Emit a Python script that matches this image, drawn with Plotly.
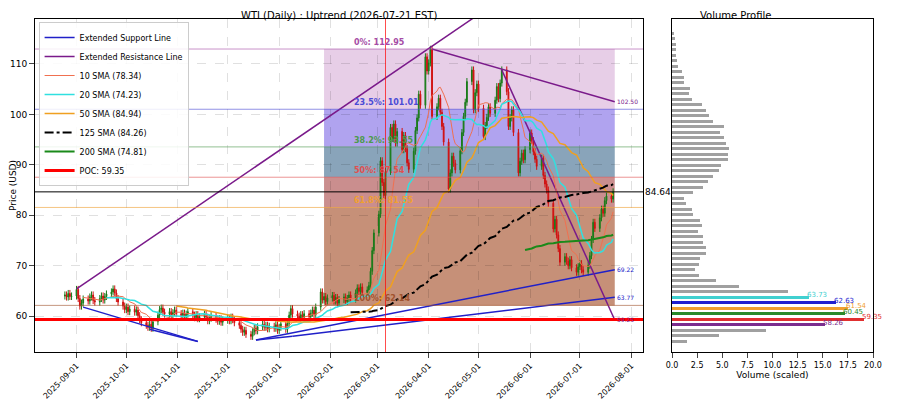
import pandas as pd
import plotly.graph_objects as go

closes = [
 64.2, 63.8, 64.5, 63.9, 64.0,
 65.3, 63.5, 62.0, 62.6, 63.4,
 63.0, 63.8, 64.2, 63.1, 62.8,
 63.5, 64.0, 63.2, 63.9, 64.4,
 64.8, 65.4, 64.6, 63.5, 62.8,
 62.0, 61.3, 61.8, 60.9, 61.4,
 60.8, 61.2, 60.1, 59.3, 58.7,
 58.2, 57.8, 58.4, 57.6, 58.9,
 60.2, 61.3, 61.6, 60.8, 60.4,
 60.9, 60.3, 60.7, 61.2, 60.5,
 60.1, 60.6, 59.8, 60.4, 60.9,
 60.2, 59.7, 60.3, 59.5, 59.9,
 60.4, 59.8, 59.1, 59.6, 60.1,
 59.4, 59.0, 59.5, 58.8, 59.2,
 59.6, 59.1, 59.8, 59.3, 58.7,
 58.2, 57.4, 56.8, 57.2, 56.4,
 56.0, 56.9, 57.6, 57.1, 57.9,
 58.4, 57.8, 58.2, 57.5, 58.0,
 57.6, 58.3, 57.2, 57.8, 58.5,
 57.4, 58.6, 60.2, 61.5, 60.4,
 60.0, 59.6, 60.3, 59.8, 60.5,
 59.9, 60.6, 61.2, 60.3, 61.8,
 64.8, 63.2, 63.9, 62.9, 63.6,
 64.1, 63.0, 63.7, 62.6, 63.3,
 63.8, 62.9, 63.5, 64.2, 63.4,
 64.6, 65.6, 64.9, 65.8, 64.7,
 65.2, 66.1, 68.9, 73.0, 76.5,
 80.2, 90.8, 86.5, 83.9, 88.7,
 97.4, 95.2, 98.1, 94.3, 96.6,
 93.0, 95.8, 93.2, 90.4, 89.1,
 92.7, 96.8, 99.3, 104.0, 101.8,
 111.4, 108.6, 110.2, 112.9, 99.6,
 101.5, 103.2, 100.4, 97.6, 94.5,
 85.2, 88.4, 91.7, 90.3, 89.0,
 92.8, 96.4, 99.6, 102.4, 106.5,
 108.8, 100.9, 104.3, 106.0, 101.2,
 95.6, 97.8, 99.4, 101.5, 100.2,
 102.8, 105.5, 103.1, 106.2, 108.8,
 104.5, 97.6, 99.3, 100.9, 96.4,
 88.4, 90.7, 92.3, 91.0, 93.0,
 96.3, 94.8, 92.6, 91.1, 89.7,
 91.3, 87.9, 86.2, 85.0, 82.4,
 77.3, 79.2, 76.1, 73.4, 70.7,
 71.8, 70.9, 70.0, 71.2, 69.6,
 68.7, 69.8, 70.4, 69.2, 68.7,
 70.1, 72.0, 75.2, 78.6, 77.4,
 79.5, 81.2, 80.4, 82.9, 83.8,
 83.2, 84.64,
]
first_open = 64.0
wick = 0.7

fib_levels = [112.95, 101.01, 93.55, 87.54, 81.55, 62.14]
fib_names = ["0%", "23.5%", "38.2%", "50%", "61.8%", "100%"]
fib_line_colors = ["#a64ca6", "#4b4bd6", "#4c9a4c", "#e05050", "#f0a030", "#a0522d"]
fib_fill_colors = ["rgba(160,60,160,0.25)", "rgba(80,50,220,0.45)", "rgba(40,90,130,0.55)",
                   "rgba(150,30,30,0.5)", "rgba(160,70,30,0.6)"]
fib_start, fib_end = "2026-01-28", "2026-07-22"

vp_start, vp_step = 54.99, 1.09
vp_vals = [1.5, 4.7, 9.4, 15.2, 19.1, 17.2, 17.5, 16.3, 13.6, 11.5, 6.7, 4.4, 2.7, 2.3, 2.7,
           2.8, 3.4, 3.4, 3.1, 3.1, 2.6, 3.0, 2.8, 2.1, 2.0, 1.4, 1.2, 2.1, 3.1, 3.6, 4.1,
           4.7, 4.9, 5.6, 5.6, 5.7, 5.4, 5.2, 4.8, 5.2, 4.1, 3.7, 3.4, 3.0, 2.0, 1.7, 1.8,
           1.2, 1.2, 1.0, 0.6, 0.5, 0.4, 0.4, 0.4, 0.3, 0.2]
vp_hi = {3: ("58.26", "#7b2d8e"), 4: ("59.35", "#e03030"), 5: ("60.45", "#2a8a2a"),
         6: ("61.54", "#f0a030"), 7: ("62.63", "#2020d0"), 8: ("63.73", "#40d0d0")}

support_lines = [
    (["2025-09-05", "2025-11-13"], [61.8, 55.0]),
    (["2025-10-15", "2025-11-13"], [57.4, 55.0]),
    (["2025-12-18", "2026-01-09"], [55.3, 56.0]),
    (["2025-12-18", "2026-07-22"], [55.3, 69.22]),
    (["2026-01-09", "2026-07-22"], [56.0, 63.77]),
]
resist_lines = [
    (["2025-09-01", "2026-05-01"], [65.4, 119.8]),
    (["2026-04-03", "2026-07-22"], [112.95, 102.50]),
    (["2026-05-15", "2026-07-22"], [108.8, 59.25]),
]
poc = 59.35
last_price = 84.64
red_vline = "2026-03-06"

dates = pd.bdate_range("2025-08-25", periods=len(closes))
s = pd.Series(closes, index=dates)
opens = [first_open] + closes[:-1]
highs = [max(o, c) + wick for o, c in zip(opens, closes)]
lows = [min(o, c) - wick for o, c in zip(opens, closes)]

fig = go.Figure()
X0, X1 = "2025-08-07", "2026-08-08"
Y0, Y1 = 52.9, 118.9

for i in range(5):
    fig.add_shape(type="rect", x0=fib_start, x1=fib_end, y0=fib_levels[i + 1], y1=fib_levels[i],
                  fillcolor=fib_fill_colors[i], line_width=0, layer="below", xref="x", yref="y")
for lv, nm, col in zip(fib_levels, fib_names, fib_line_colors):
    fig.add_shape(type="line", x0=X0, x1=X1, y0=lv, y1=lv, line=dict(color=col, width=1), opacity=0.6,
                  xref="x", yref="y")
    fig.add_annotation(x="2026-02-14", y=lv, text=f"<b>{nm}: {lv:.2f}</b>", showarrow=False,
                       font=dict(size=8, color=col), xanchor="left", yanchor="bottom", xref="x", yref="y")

fig.add_trace(go.Candlestick(x=dates, open=opens, high=highs, low=lows, close=closes,
                             increasing=dict(line=dict(color="#1a7a1a", width=1), fillcolor="#1a9a1a"),
                             decreasing=dict(line=dict(color="#d01010", width=1), fillcolor="#e01010"),
                             showlegend=False, xaxis="x", yaxis="y", whiskerwidth=0))

for i, (xs, ys) in enumerate(support_lines):
    fig.add_trace(go.Scatter(x=xs, y=ys, mode="lines", line=dict(color="#2020c8", width=1.5),
                             name="Extended Support Line", showlegend=(i == 0)))
for i, (xs, ys) in enumerate(resist_lines):
    fig.add_trace(go.Scatter(x=xs, y=ys, mode="lines", line=dict(color="#7a1a8a", width=1.5),
                             name="Extended Resistance Line", showlegend=(i == 0)))

smas = [(10, "10 SMA (78.34)", "#f07050", None, 1),
        (20, "20 SMA (74.23)", "#30e0e0", None, 1.5),
        (50, "50 SMA (84.94)", "#f0a020", None, 1.5),
        (125, "125 SMA (84.26)", "black", "dashdot", 2),
        (200, "200 SMA (74.81)", "#1a8a1a", None, 2)]
for n, name, col, dash, w in smas:
    m = s.rolling(n).mean()
    fig.add_trace(go.Scatter(x=dates, y=m.values, mode="lines", name=name,
                             line=dict(color=col, width=w, dash=dash)))

fig.add_trace(go.Scatter(x=[X0, X1], y=[poc, poc], mode="lines", name=f"POC: {poc:.2f}",
                         line=dict(color="red", width=3)))
fig.add_shape(type="line", x0=X0, x1=X1, y0=last_price, y1=last_price, line=dict(color="black", width=1),
              xref="x", yref="y")
fig.add_annotation(x=1, xref="x domain", y=last_price, yref="y", text=f"{last_price:.2f}", showarrow=False,
                   xanchor="left", font=dict(size=9, color="black"))
fig.add_shape(type="line", x0=red_vline, x1=red_vline, y0=Y0, y1=Y1, line=dict(color="red", width=0.7),
              xref="x", yref="y")
for txt, yv, col in [("102.50", 102.5, "#7a1a8a"), ("69.22", 69.22, "#2020c8"),
                     ("63.77", 63.77, "#2020c8"), ("59.25", 59.25, "#7a1a8a")]:
    fig.add_annotation(x=fib_end, y=yv, text=txt, showarrow=False, xanchor="left",
                       font=dict(size=6, color=col), xref="x", yref="y")

vp_y = [vp_start + i * vp_step for i in range(len(vp_vals))]
vp_col = [vp_hi[i][1] if i in vp_hi else "#a0a0a0" for i in range(len(vp_vals))]
fig.add_trace(go.Bar(x=vp_vals, y=vp_y, orientation="h", marker=dict(color=vp_col, line_width=0),
                     width=vp_step * 0.55, showlegend=False, xaxis="x2", yaxis="y2"))
for i, (txt, col) in vp_hi.items():
    fig.add_annotation(x=vp_vals[i], y=vp_y[i], text=txt, showarrow=False, xanchor="left",
                       font=dict(size=7, color=col), xref="x2", yref="y2", xshift=-4, yshift=2)

grid = "rgba(0,0,0,0.12)"
YD = [56 / 400, 389 / 400]
XM = [27 / 900, 635 / 900]
XV = [664 / 900, 865 / 900]
fig.update_layout(
    width=900, height=400, margin=dict(l=0, r=0, t=0, b=0, autoexpand=False),
    paper_bgcolor="white", plot_bgcolor="white",
    font=dict(family="DejaVu Sans", size=9, color="black"),
    xaxis=dict(domain=XM, range=[X0, X1], rangeslider=dict(visible=False),
               tickformat="%Y-%m-%d", dtick="M1", tick0="2025-09-01", tickangle=-45,
               showgrid=True, gridcolor=grid, griddash="dash", mirror=True, showline=True,
               linecolor="black", ticks="outside", tickfont=dict(size=8), automargin=False),
    yaxis=dict(domain=YD, range=[Y0, Y1], dtick=10, showgrid=True, gridcolor=grid,
               griddash="dash", mirror=True, showline=True, linecolor="black", ticks="outside",
               automargin=False, title=dict(text="Price (USD)", font=dict(size=9), standoff=4)),
    xaxis2=dict(domain=XV, range=[0, 20], anchor="y2", dtick=2.5, tickformat=".1f",
                showline=True, mirror=True, linecolor="black", ticks="outside", showgrid=False,
                tickfont=dict(size=8), automargin=False,
                title=dict(text="Volume (scaled)", font=dict(size=9), standoff=2)),
    yaxis2=dict(domain=YD, range=[Y0, Y1], anchor="x2", showticklabels=False, automargin=False,
                showline=True, mirror=True, linecolor="black", showgrid=False, ticks=""),
    legend=dict(x=0.034, y=0.965, xanchor="left", yanchor="top", xref="paper", yref="paper",
                bgcolor="rgba(255,255,255,0.85)", bordercolor="#cccccc", borderwidth=1,
                font=dict(size=8), tracegroupgap=0, itemwidth=30),
    bargap=0,
)
fig.add_annotation(x=(XM[0] + XM[1]) / 2, y=1, xref="paper", yref="paper", yanchor="top",
                   text="WTI (Daily) : Uptrend (2026-07-21 EST)", showarrow=False, font=dict(size=10))
fig.add_annotation(x=(XV[0] + XV[1]) / 2, y=1, xref="paper", yref="paper", yanchor="top",
                   text="Volume Profile", showarrow=False, font=dict(size=10))

fig.write_html("out.html")
